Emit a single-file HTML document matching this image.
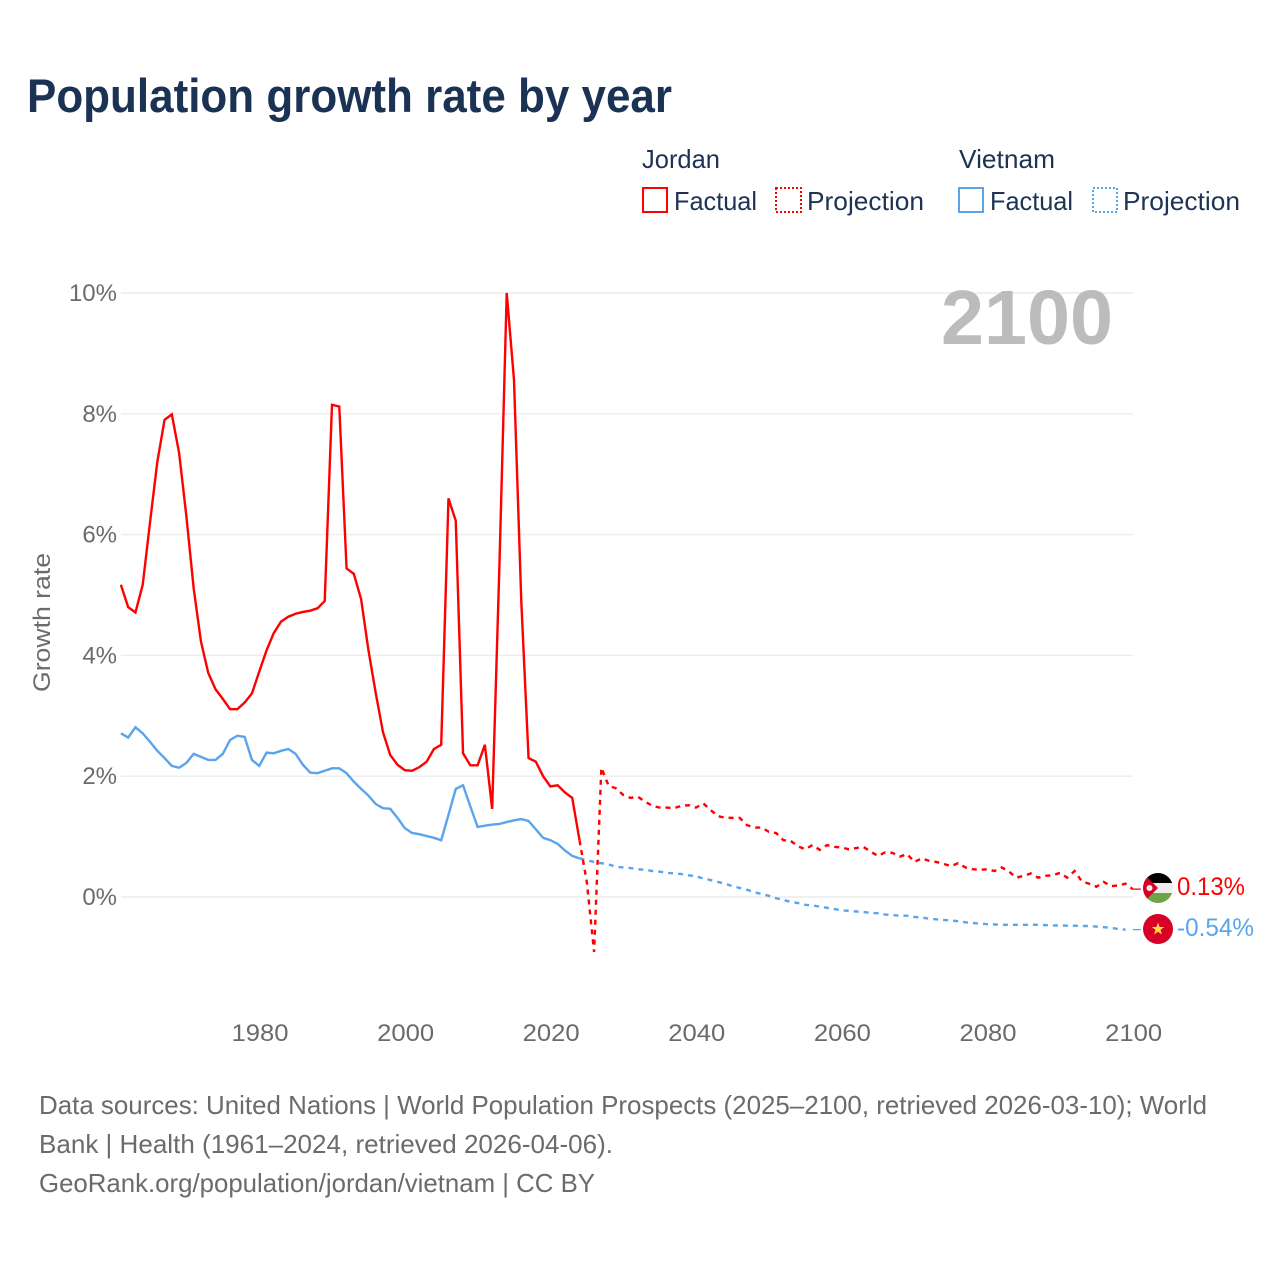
<!DOCTYPE html>
<html lang="en">
<head>
<meta charset="utf-8">
<title>Population growth rate by year</title>
<style>
html,body{margin:0;padding:0;background:#fff;}
svg{display:block;}
text{font-family:"Liberation Sans",sans-serif;}
</style>
</head>
<body>
<svg id="chart" xmlns="http://www.w3.org/2000/svg" width="1280" height="1280" viewBox="0 0 1280 1280">
  <rect x="0" y="0" width="1280" height="1280" fill="#fff"/>
  <text x="27" y="112" font-size="47" font-weight="700" fill="#1a3253" textLength="645" lengthAdjust="spacingAndGlyphs">Population growth rate by year</text>

  <g>
    <text x="642" y="168" font-size="26" fill="#1d3354" textLength="78" lengthAdjust="spacingAndGlyphs">Jordan</text>
    <rect x="643" y="188" width="24" height="24" fill="none" stroke="#ff0000" stroke-width="2"/>
    <text x="674" y="210" font-size="26" fill="#1d3354" textLength="83" lengthAdjust="spacingAndGlyphs">Factual</text>
    <rect x="776" y="188" width="25" height="24" fill="none" stroke="#ff0000" stroke-width="2" stroke-dasharray="2 2"/>
    <text x="807" y="210" font-size="26" fill="#1d3354" textLength="117" lengthAdjust="spacingAndGlyphs">Projection</text>
    <text x="959" y="168" font-size="26" fill="#1d3354" textLength="96" lengthAdjust="spacingAndGlyphs">Vietnam</text>
    <rect x="959" y="188" width="24" height="24" fill="none" stroke="#5ba4ec" stroke-width="2"/>
    <text x="990" y="210" font-size="26" fill="#1d3354" textLength="83" lengthAdjust="spacingAndGlyphs">Factual</text>
    <rect x="1093" y="188" width="24" height="24" fill="none" stroke="#5ba4ec" stroke-width="2" stroke-dasharray="2 2"/>
    <text x="1123" y="210" font-size="26" fill="#1d3354" textLength="117" lengthAdjust="spacingAndGlyphs">Projection</text>
  </g>

  <g id="grid"></g>
  <g id="yticks"></g>
  <g id="xticks"></g>
  <text transform="translate(50,692) rotate(-90)" x="0" y="0" font-size="24" fill="#6b6b6b" textLength="139" lengthAdjust="spacingAndGlyphs">Growth rate</text>
  <text x="941" y="344" font-size="77" font-weight="700" fill="#bcbcbc" textLength="172" lengthAdjust="spacingAndGlyphs">2100</text>
  <g id="series"></g>

  <defs>
    <clipPath id="flag-clip-jordan"><circle id="clip-jordan" cx="1158" cy="888" r="15"/></clipPath>
  </defs>
  <g id="flag-jordan" clip-path="url(#flag-clip-jordan)">
    <rect x="1143" y="873" width="30" height="10" fill="#000"/>
    <rect x="1143" y="883" width="30" height="10" fill="#eeeeee"/>
    <rect x="1143" y="893" width="30" height="10" fill="#6da544"/>
    <polygon points="1143,873 1158,888 1143,903" fill="#d80027"/>
    <circle cx="1149.5" cy="888" r="3" fill="#eeeeee"/>
  </g>
  <g id="flag-vietnam">
    <circle cx="1158" cy="929" r="15" fill="#d80027"/>
    <polygon points="1158,922.5 1159.6,927 1164.3,927 1160.5,929.9 1161.9,934.5 1158,931.7 1154.1,934.5 1155.5,929.9 1151.7,927 1156.4,927" fill="#ffda44"/>
  </g>
  <text id="value-jordan" x="1177" y="895" font-size="25" fill="#ff0000" textLength="68" lengthAdjust="spacingAndGlyphs"></text>
  <text id="value-vietnam" x="1177" y="936" font-size="25" fill="#5ba4ec" textLength="77" lengthAdjust="spacingAndGlyphs"></text>

  <text x="39" y="1114" font-size="26" fill="#6b6b6b" textLength="1168" lengthAdjust="spacingAndGlyphs">Data sources: United Nations | World Population Prospects (2025–2100, retrieved 2026-03-10); World</text>
  <text x="39" y="1153" font-size="26" fill="#6b6b6b" textLength="574" lengthAdjust="spacingAndGlyphs">Bank | Health (1961–2024, retrieved 2026-04-06).</text>
  <text x="39" y="1192" font-size="26" fill="#6b6b6b" textLength="556" lengthAdjust="spacingAndGlyphs">GeoRank.org/population/jordan/vietnam | CC BY</text>
</svg>

<script>
const factualStart = 1961;
const projectionStart = 2024;
const yTickValues = [0, 2, 4, 6, 8, 10];
const yTickLabels = ["0%", "2%", "4%", "6%", "8%", "10%"];
const xTickValues = [1980, 2000, 2020, 2040, 2060, 2080, 2100];
const xTickLabels = ["1980", "2000", "2020", "2040", "2060", "2080", "2100"];

const jordanFactual = [5.17,4.80,4.71,5.17,6.20,7.20,7.90,7.99,7.35,6.30,5.11,4.23,3.71,3.44,3.28,3.11,3.11,3.22,3.37,3.73,4.08,4.37,4.56,4.64,4.69,4.72,4.74,4.78,4.90,8.15,8.12,5.44,5.35,4.93,4.09,3.38,2.73,2.35,2.19,2.10,2.09,2.15,2.24,2.45,2.52,6.60,6.23,2.38,2.18,2.18,2.52,1.46,5.50,10.00,8.56,4.90,2.30,2.24,2.00,1.83,1.85,1.73,1.64,0.94];
const jordanProjection = [0.94,0.25,-0.91,2.14,1.84,1.80,1.69,1.64,1.66,1.58,1.51,1.48,1.48,1.47,1.51,1.52,1.48,1.55,1.44,1.34,1.31,1.31,1.31,1.19,1.15,1.15,1.08,1.06,0.94,0.93,0.84,0.79,0.86,0.78,0.86,0.83,0.82,0.79,0.81,0.83,0.75,0.68,0.74,0.73,0.67,0.71,0.58,0.64,0.60,0.58,0.55,0.51,0.56,0.49,0.46,0.45,0.46,0.43,0.49,0.42,0.32,0.35,0.39,0.32,0.35,0.36,0.40,0.32,0.43,0.26,0.22,0.17,0.25,0.18,0.19,0.22,0.13];
const vietnamFactual = [2.71,2.64,2.81,2.71,2.57,2.42,2.30,2.17,2.14,2.22,2.37,2.32,2.27,2.27,2.37,2.60,2.67,2.65,2.27,2.17,2.39,2.38,2.42,2.45,2.37,2.19,2.06,2.05,2.09,2.13,2.13,2.05,1.91,1.79,1.68,1.54,1.47,1.46,1.31,1.14,1.06,1.04,1.01,0.98,0.94,1.36,1.79,1.85,1.50,1.16,1.18,1.20,1.21,1.24,1.27,1.29,1.26,1.12,0.98,0.94,0.88,0.77,0.68,0.64];
const vietnamProjection = [0.64,0.61,0.58,0.56,0.54,0.50,0.49,0.48,0.46,0.45,0.43,0.42,0.40,0.39,0.38,0.36,0.34,0.31,0.28,0.25,0.22,0.18,0.15,0.12,0.08,0.05,0.02,-0.02,-0.05,-0.08,-0.10,-0.13,-0.14,-0.16,-0.18,-0.20,-0.22,-0.23,-0.24,-0.25,-0.26,-0.27,-0.29,-0.30,-0.31,-0.31,-0.33,-0.34,-0.36,-0.37,-0.38,-0.39,-0.40,-0.42,-0.43,-0.44,-0.45,-0.455,-0.46,-0.46,-0.46,-0.46,-0.46,-0.46,-0.465,-0.47,-0.47,-0.475,-0.475,-0.48,-0.48,-0.49,-0.50,-0.51,-0.53,-0.54];

const xScale = function (year) { return 259.2 + (year - 1980) * 7.28; };
const yScale = function (value) { return 897 - value * 60.4; };
const SVG_NS = "http://www.w3.org/2000/svg";

function makeEl(tag, parent) {
  const el = document.createElementNS(SVG_NS, tag);
  parent.appendChild(el);
  return el;
}

const gridGroup = document.getElementById("grid");
const yTickGroup = document.getElementById("yticks");
const xTickGroup = document.getElementById("xticks");
const seriesGroup = document.getElementById("series");

yTickValues.forEach(function (v, i) {
  const line = makeEl("line", gridGroup);
  
  
  line.setAttribute("x1", 121);
  line.setAttribute("x2", 1133);
  line.setAttribute("y1", yScale(v));
  line.setAttribute("y2", yScale(v));
  line.setAttribute("stroke", "#ececec");
  line.setAttribute("stroke-width", "1.4");

  const label = makeEl("text", yTickGroup);
  
  
  label.setAttribute("x", 117);
  label.setAttribute("y", yScale(v) + 8);
  label.setAttribute("text-anchor", "end");
  label.setAttribute("font-size", "24");
  label.setAttribute("fill", "#6b6b6b");
  label.textContent = yTickLabels[i];
});

xTickValues.forEach(function (v, i) {
  const label = makeEl("text", xTickGroup);
  
  
  label.setAttribute("x", xScale(v) + 0.8);
  label.setAttribute("y", 1041);
  label.setAttribute("text-anchor", "middle");
  label.setAttribute("font-size", "24");
  label.setAttribute("fill", "#6b6b6b");
  label.setAttribute("textLength", "57");
  label.setAttribute("lengthAdjust", "spacingAndGlyphs");
  label.textContent = xTickLabels[i];
});

function pathFrom(values, startYear) {
  return values.map(function (v, i) {
    return (i ? "L" : "M") + xScale(startYear + i).toFixed(2) + " " + yScale(v).toFixed(2);
  }).join(" ");
}

function drawLine(values, startYear, color, dashed) {
  const path = makeEl("path", seriesGroup);
  path.setAttribute("d", pathFrom(values, startYear));
  path.setAttribute("fill", "none");
  path.setAttribute("stroke", color);
  path.setAttribute("stroke-width", "2.4");
  path.setAttribute("stroke-linejoin", "miter");
  if (dashed) { path.setAttribute("stroke-dasharray", "5 5"); }
  return path;
}

function drawConnector(value, color) {
  const line = makeEl("line", seriesGroup);
  
  
  line.setAttribute("x1", xScale(2100));
  line.setAttribute("x2", 1143);
  line.setAttribute("y1", yScale(value));
  line.setAttribute("y2", yScale(value));
  line.setAttribute("stroke", color);
  line.setAttribute("stroke-width", "1.3");
  line.setAttribute("stroke-dasharray", "8 3");
}

const jordanColor = "#ff0000";
const vietnamColor = "#5ba4ec";

const vietnamFactualLine = drawLine(vietnamFactual, factualStart, vietnamColor, false);


const vietnamProjectionLine = drawLine(vietnamProjection, projectionStart, vietnamColor, true);


const jordanFactualLine = drawLine(jordanFactual, factualStart, jordanColor, false);


const jordanProjectionLine = drawLine(jordanProjection, projectionStart, jordanColor, true);



const jordanEnd = jordanProjection[jordanProjection.length - 1];
const vietnamEnd = vietnamProjection[vietnamProjection.length - 1];
drawConnector(jordanEnd, jordanColor);
drawConnector(vietnamEnd, vietnamColor);

document.getElementById("value-jordan").textContent = jordanEnd.toFixed(2) + "%";
document.getElementById("value-vietnam").textContent = vietnamEnd.toFixed(2) + "%";
</script>
</body>
</html>
